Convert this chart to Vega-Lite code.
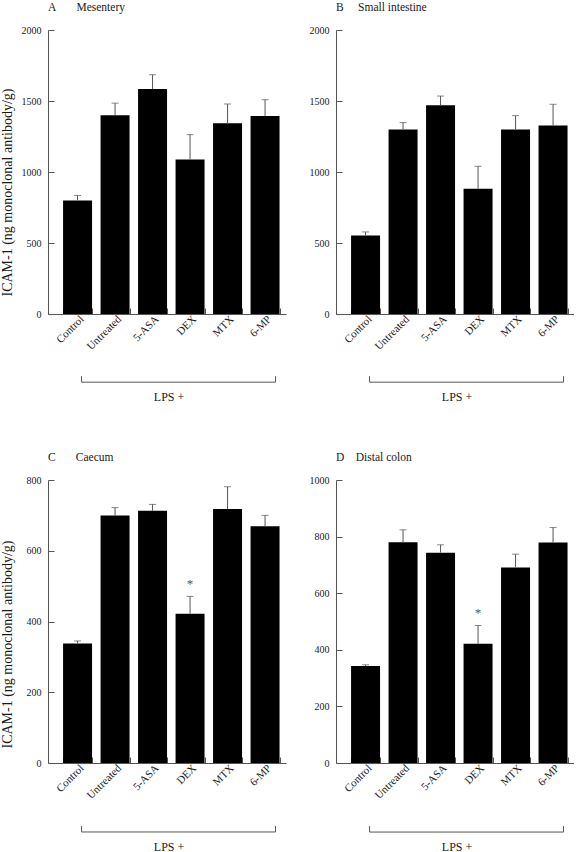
{
  "$schema": "https://vega.github.io/schema/vega-lite/v6.json",
  "background": "white",
  "padding": {"left": 0, "top": 1, "right": 0, "bottom": 0},
  "autosize": {"type": "pad"},
  "bounds": "flush",
  "columns": 2,
  "spacing": {"row": 166, "column": 50},
  "datasets": {
    "bars": [
      {"panel": "A", "group": "Control", "value": 800, "err": 835, "sig": ""},
      {"panel": "A", "group": "Untreated", "value": 1400, "err": 1485, "sig": ""},
      {"panel": "A", "group": "5-ASA", "value": 1585, "err": 1685, "sig": ""},
      {"panel": "A", "group": "DEX", "value": 1088, "err": 1263, "sig": ""},
      {"panel": "A", "group": "MTX", "value": 1343, "err": 1479, "sig": ""},
      {"panel": "A", "group": "6-MP", "value": 1395, "err": 1509, "sig": ""},
      {"panel": "B", "group": "Control", "value": 552, "err": 578, "sig": ""},
      {"panel": "B", "group": "Untreated", "value": 1300, "err": 1348, "sig": ""},
      {"panel": "B", "group": "5-ASA", "value": 1470, "err": 1535, "sig": ""},
      {"panel": "B", "group": "DEX", "value": 882, "err": 1040, "sig": ""},
      {"panel": "B", "group": "MTX", "value": 1300, "err": 1397, "sig": ""},
      {"panel": "B", "group": "6-MP", "value": 1327, "err": 1477, "sig": ""},
      {"panel": "C", "group": "Control", "value": 338, "err": 345, "sig": ""},
      {"panel": "C", "group": "Untreated", "value": 700, "err": 722, "sig": ""},
      {"panel": "C", "group": "5-ASA", "value": 713, "err": 731, "sig": ""},
      {"panel": "C", "group": "DEX", "value": 422, "err": 471, "sig": "*"},
      {"panel": "C", "group": "MTX", "value": 718, "err": 781, "sig": ""},
      {"panel": "C", "group": "6-MP", "value": 669, "err": 700, "sig": ""},
      {"panel": "D", "group": "Control", "value": 343, "err": 347, "sig": ""},
      {"panel": "D", "group": "Untreated", "value": 780, "err": 824, "sig": ""},
      {"panel": "D", "group": "5-ASA", "value": 743, "err": 771, "sig": ""},
      {"panel": "D", "group": "DEX", "value": 421, "err": 486, "sig": "*"},
      {"panel": "D", "group": "MTX", "value": 691, "err": 738, "sig": ""},
      {"panel": "D", "group": "6-MP", "value": 779, "err": 832, "sig": ""}
    ],
    "brackets": [
      {"panel": "A", "from": "Untreated", "to": "6-MP", "labelAt": "5-ASA", "low": -480, "high": -438, "labelY": -588, "label": "LPS +"},
      {"panel": "B", "from": "Untreated", "to": "6-MP", "labelAt": "5-ASA", "low": -480, "high": -438, "labelY": -588, "label": "LPS +"},
      {"panel": "C", "from": "Untreated", "to": "6-MP", "labelAt": "5-ASA", "low": -195, "high": -178, "labelY": -237, "label": "LPS +"},
      {"panel": "D", "from": "Untreated", "to": "6-MP", "labelAt": "5-ASA", "low": -244, "high": -223, "labelY": -297, "label": "LPS +"}
    ]
  },
  "concat": [
    {
      "width": 238, "height": 284,
      "title": {"text": "A\u00a0\u00a0\u00a0\u00a0\u00a0\u00a0\u00a0Mesentery"},
      "layer": [
        {
          "data": {"name": "bars"},
          "transform": [{"filter": "datum.panel === 'A'"}],
          "mark": {"type": "bar", "color": "black"},
          "encoding": {
            "x": {"field": "group", "type": "nominal", "scale": {"domain": ["Control", "Untreated", "5-ASA", "DEX", "MTX", "6-MP"], "paddingInner": 0.227, "paddingOuter": 0.287, "align": 0.7}, "axis": {"title": null}},
            "y": {"field": "value", "type": "quantitative", "scale": {"domain": [0, 2000], "nice": false}, "axis": {"title": "ICAM-1 (ng monoclonal antibody/g)", "values": [0, 500, 1000, 1500, 2000], "titleX": -34, "titleY": 162, "titleAngle": -90, "titleFontSize": 14}}
          }
        },
        {
          "data": {"name": "bars"},
          "transform": [{"filter": "datum.panel === 'A'"}],
          "mark": {"type": "rule", "color": "#555"},
          "encoding": {"x": {"field": "group", "type": "nominal"}, "y": {"field": "err", "type": "quantitative"}, "y2": {"field": "value"}}
        },
        {
          "data": {"name": "bars"},
          "transform": [{"filter": "datum.panel === 'A'"}],
          "mark": {"type": "tick", "color": "#555", "size": 7, "thickness": 1},
          "encoding": {"x": {"field": "group", "type": "nominal"}, "y": {"field": "err", "type": "quantitative"}}
        },
        {
          "data": {"name": "brackets"},
          "transform": [{"filter": "datum.panel === 'A'"}],
          "mark": {"type": "rule", "color": "#555", "xOffset": -19, "x2Offset": -4},
          "encoding": {"x": {"field": "from", "type": "nominal", "bandPosition": 0}, "x2": {"field": "to", "bandPosition": 1}, "y": {"field": "low", "type": "quantitative"}}
        },
        {
          "data": {"name": "brackets"},
          "transform": [{"filter": "datum.panel === 'A'"}],
          "mark": {"type": "rule", "color": "#555", "xOffset": -19},
          "encoding": {"x": {"field": "from", "type": "nominal", "bandPosition": 0}, "y": {"field": "low", "type": "quantitative"}, "y2": {"field": "high"}}
        },
        {
          "data": {"name": "brackets"},
          "transform": [{"filter": "datum.panel === 'A'"}],
          "mark": {"type": "rule", "color": "#555", "xOffset": -4},
          "encoding": {"x": {"field": "to", "type": "nominal", "bandPosition": 1}, "y": {"field": "low", "type": "quantitative"}, "y2": {"field": "high"}}
        },
        {
          "data": {"name": "brackets"},
          "transform": [{"filter": "datum.panel === 'A'"}],
          "mark": {"type": "text", "font": "Liberation Serif", "fontSize": 12, "fill": "#1a1a1a", "color": "#1a1a1a", "baseline": "middle", "align": "center", "xOffset": 2},
          "encoding": {"x": {"field": "labelAt", "type": "nominal", "bandPosition": 1}, "y": {"field": "labelY", "type": "quantitative"}, "text": {"field": "label"}}
        }
      ]
    },
    {
      "width": 238, "height": 284,
      "title": {"text": "B\u00a0\u00a0\u00a0\u00a0\u00a0Small intestine"},
      "layer": [
        {
          "data": {"name": "bars"},
          "transform": [{"filter": "datum.panel === 'B'"}],
          "mark": {"type": "bar", "color": "black"},
          "encoding": {
            "x": {"field": "group", "type": "nominal", "scale": {"domain": ["Control", "Untreated", "5-ASA", "DEX", "MTX", "6-MP"], "paddingInner": 0.227, "paddingOuter": 0.287, "align": 0.7}, "axis": {"title": null}},
            "y": {"field": "value", "type": "quantitative", "scale": {"domain": [0, 2000], "nice": false}, "axis": {"title": null, "values": [0, 500, 1000, 1500, 2000]}}
          }
        },
        {
          "data": {"name": "bars"},
          "transform": [{"filter": "datum.panel === 'B'"}],
          "mark": {"type": "rule", "color": "#555"},
          "encoding": {"x": {"field": "group", "type": "nominal"}, "y": {"field": "err", "type": "quantitative"}, "y2": {"field": "value"}}
        },
        {
          "data": {"name": "bars"},
          "transform": [{"filter": "datum.panel === 'B'"}],
          "mark": {"type": "tick", "color": "#555", "size": 7, "thickness": 1},
          "encoding": {"x": {"field": "group", "type": "nominal"}, "y": {"field": "err", "type": "quantitative"}}
        },
        {
          "data": {"name": "brackets"},
          "transform": [{"filter": "datum.panel === 'B'"}],
          "mark": {"type": "rule", "color": "#555", "xOffset": -19, "x2Offset": -4},
          "encoding": {"x": {"field": "from", "type": "nominal", "bandPosition": 0}, "x2": {"field": "to", "bandPosition": 1}, "y": {"field": "low", "type": "quantitative"}}
        },
        {
          "data": {"name": "brackets"},
          "transform": [{"filter": "datum.panel === 'B'"}],
          "mark": {"type": "rule", "color": "#555", "xOffset": -19},
          "encoding": {"x": {"field": "from", "type": "nominal", "bandPosition": 0}, "y": {"field": "low", "type": "quantitative"}, "y2": {"field": "high"}}
        },
        {
          "data": {"name": "brackets"},
          "transform": [{"filter": "datum.panel === 'B'"}],
          "mark": {"type": "rule", "color": "#555", "xOffset": -4},
          "encoding": {"x": {"field": "to", "type": "nominal", "bandPosition": 1}, "y": {"field": "low", "type": "quantitative"}, "y2": {"field": "high"}}
        },
        {
          "data": {"name": "brackets"},
          "transform": [{"filter": "datum.panel === 'B'"}],
          "mark": {"type": "text", "font": "Liberation Serif", "fontSize": 12, "fill": "#1a1a1a", "color": "#1a1a1a", "baseline": "middle", "align": "center", "xOffset": 2},
          "encoding": {"x": {"field": "labelAt", "type": "nominal", "bandPosition": 1}, "y": {"field": "labelY", "type": "quantitative"}, "text": {"field": "label"}}
        }
      ]
    },
    {
      "width": 238, "height": 283,
      "title": {"text": "C\u00a0\u00a0\u00a0\u00a0\u00a0\u00a0\u00a0Caecum"},
      "layer": [
        {
          "data": {"name": "bars"},
          "transform": [{"filter": "datum.panel === 'C'"}],
          "mark": {"type": "bar", "color": "black"},
          "encoding": {
            "x": {"field": "group", "type": "nominal", "scale": {"domain": ["Control", "Untreated", "5-ASA", "DEX", "MTX", "6-MP"], "paddingInner": 0.227, "paddingOuter": 0.287, "align": 0.7}, "axis": {"title": null}},
            "y": {"field": "value", "type": "quantitative", "scale": {"domain": [0, 800], "nice": false}, "axis": {"title": "ICAM-1 (ng monoclonal antibody/g)", "values": [0, 100, 200, 300, 400, 500, 600, 700, 800], "labelExpr": "datum.value % 200 === 0 ? datum.label : ''", "titleX": -34, "titleY": 164, "titleAngle": -90, "titleFontSize": 14}}
          }
        },
        {
          "data": {"name": "bars"},
          "transform": [{"filter": "datum.panel === 'C'"}],
          "mark": {"type": "rule", "color": "#555"},
          "encoding": {"x": {"field": "group", "type": "nominal"}, "y": {"field": "err", "type": "quantitative"}, "y2": {"field": "value"}}
        },
        {
          "data": {"name": "bars"},
          "transform": [{"filter": "datum.panel === 'C'"}],
          "mark": {"type": "tick", "color": "#555", "size": 7, "thickness": 1},
          "encoding": {"x": {"field": "group", "type": "nominal"}, "y": {"field": "err", "type": "quantitative"}}
        },
        {
          "data": {"name": "bars"},
          "transform": [{"filter": "datum.panel === 'C' && datum.sig !== ''"}],
          "mark": {"type": "text", "font": "Liberation Serif", "fontSize": 13, "fill": "#555", "color": "#555", "baseline": "middle", "dy": -12},
          "encoding": {"x": {"field": "group", "type": "nominal"}, "y": {"field": "err", "type": "quantitative"}, "text": {"field": "sig"}}
        },
        {
          "data": {"name": "brackets"},
          "transform": [{"filter": "datum.panel === 'C'"}],
          "mark": {"type": "rule", "color": "#555", "xOffset": -19, "x2Offset": -4},
          "encoding": {"x": {"field": "from", "type": "nominal", "bandPosition": 0}, "x2": {"field": "to", "bandPosition": 1}, "y": {"field": "low", "type": "quantitative"}}
        },
        {
          "data": {"name": "brackets"},
          "transform": [{"filter": "datum.panel === 'C'"}],
          "mark": {"type": "rule", "color": "#555", "xOffset": -19},
          "encoding": {"x": {"field": "from", "type": "nominal", "bandPosition": 0}, "y": {"field": "low", "type": "quantitative"}, "y2": {"field": "high"}}
        },
        {
          "data": {"name": "brackets"},
          "transform": [{"filter": "datum.panel === 'C'"}],
          "mark": {"type": "rule", "color": "#555", "xOffset": -4},
          "encoding": {"x": {"field": "to", "type": "nominal", "bandPosition": 1}, "y": {"field": "low", "type": "quantitative"}, "y2": {"field": "high"}}
        },
        {
          "data": {"name": "brackets"},
          "transform": [{"filter": "datum.panel === 'C'"}],
          "mark": {"type": "text", "font": "Liberation Serif", "fontSize": 12, "fill": "#1a1a1a", "color": "#1a1a1a", "baseline": "middle", "align": "center", "xOffset": 2},
          "encoding": {"x": {"field": "labelAt", "type": "nominal", "bandPosition": 1}, "y": {"field": "labelY", "type": "quantitative"}, "text": {"field": "label"}}
        }
      ]
    },
    {
      "width": 238, "height": 283,
      "title": {"text": "D\u00a0\u00a0\u00a0\u00a0Distal colon"},
      "layer": [
        {
          "data": {"name": "bars"},
          "transform": [{"filter": "datum.panel === 'D'"}],
          "mark": {"type": "bar", "color": "black"},
          "encoding": {
            "x": {"field": "group", "type": "nominal", "scale": {"domain": ["Control", "Untreated", "5-ASA", "DEX", "MTX", "6-MP"], "paddingInner": 0.227, "paddingOuter": 0.287, "align": 0.7}, "axis": {"title": null}},
            "y": {"field": "value", "type": "quantitative", "scale": {"domain": [0, 1000], "nice": false}, "axis": {"title": null, "values": [0, 100, 200, 300, 400, 500, 600, 700, 800, 900, 1000], "labelExpr": "datum.value % 200 === 0 ? datum.label : ''"}}
          }
        },
        {
          "data": {"name": "bars"},
          "transform": [{"filter": "datum.panel === 'D'"}],
          "mark": {"type": "rule", "color": "#555"},
          "encoding": {"x": {"field": "group", "type": "nominal"}, "y": {"field": "err", "type": "quantitative"}, "y2": {"field": "value"}}
        },
        {
          "data": {"name": "bars"},
          "transform": [{"filter": "datum.panel === 'D'"}],
          "mark": {"type": "tick", "color": "#555", "size": 7, "thickness": 1},
          "encoding": {"x": {"field": "group", "type": "nominal"}, "y": {"field": "err", "type": "quantitative"}}
        },
        {
          "data": {"name": "bars"},
          "transform": [{"filter": "datum.panel === 'D' && datum.sig !== ''"}],
          "mark": {"type": "text", "font": "Liberation Serif", "fontSize": 13, "fill": "#555", "color": "#555", "baseline": "middle", "dy": -12},
          "encoding": {"x": {"field": "group", "type": "nominal"}, "y": {"field": "err", "type": "quantitative"}, "text": {"field": "sig"}}
        },
        {
          "data": {"name": "brackets"},
          "transform": [{"filter": "datum.panel === 'D'"}],
          "mark": {"type": "rule", "color": "#555", "xOffset": -19, "x2Offset": -4},
          "encoding": {"x": {"field": "from", "type": "nominal", "bandPosition": 0}, "x2": {"field": "to", "bandPosition": 1}, "y": {"field": "low", "type": "quantitative"}}
        },
        {
          "data": {"name": "brackets"},
          "transform": [{"filter": "datum.panel === 'D'"}],
          "mark": {"type": "rule", "color": "#555", "xOffset": -19},
          "encoding": {"x": {"field": "from", "type": "nominal", "bandPosition": 0}, "y": {"field": "low", "type": "quantitative"}, "y2": {"field": "high"}}
        },
        {
          "data": {"name": "brackets"},
          "transform": [{"filter": "datum.panel === 'D'"}],
          "mark": {"type": "rule", "color": "#555", "xOffset": -4},
          "encoding": {"x": {"field": "to", "type": "nominal", "bandPosition": 1}, "y": {"field": "low", "type": "quantitative"}, "y2": {"field": "high"}}
        },
        {
          "data": {"name": "brackets"},
          "transform": [{"filter": "datum.panel === 'D'"}],
          "mark": {"type": "text", "font": "Liberation Serif", "fontSize": 12, "fill": "#1a1a1a", "color": "#1a1a1a", "baseline": "middle", "align": "center", "xOffset": 2},
          "encoding": {"x": {"field": "labelAt", "type": "nominal", "bandPosition": 1}, "y": {"field": "labelY", "type": "quantitative"}, "text": {"field": "label"}}
        }
      ]
    }
  ],
  "config": {
    "view": {"stroke": null},
    "font": "Liberation Serif",
    "axis": {"grid": false, "domainColor": "#555", "tickColor": "#555", "labelColor": "#1a1a1a", "titleColor": "#1a1a1a", "labelFont": "Liberation Serif", "titleFont": "Liberation Serif", "titleFontWeight": "normal", "labelFontSize": 10, "tickSize": -6, "labelPadding": 13},
    "axisY": {"format": "d"},
    "axisX": {"labelAngle": -45, "tickBand": "extent", "labelFontSize": 11, "labelPadding": 5},
    "title": {"anchor": "start", "frame": "group", "font": "Liberation Serif", "fontSize": 11.5, "fontWeight": "normal", "color": "#1a1a1a", "baseline": "alphabetic", "offset": 12}
  }
}
